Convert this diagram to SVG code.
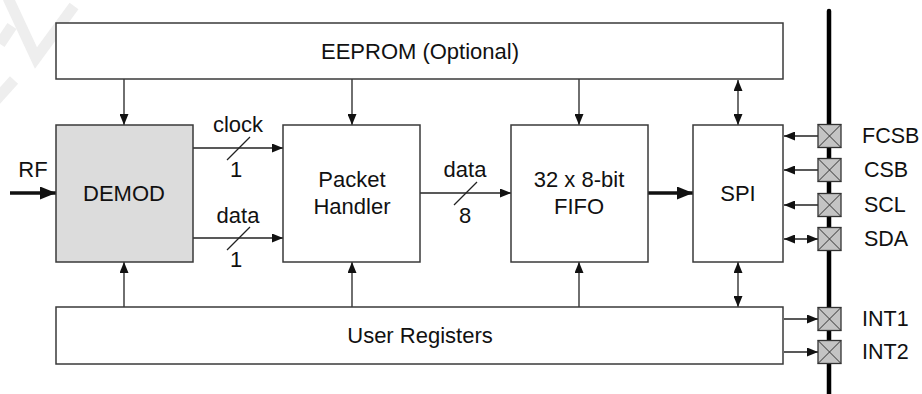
<svg xmlns="http://www.w3.org/2000/svg" width="922" height="394" viewBox="0 0 922 394">
<style>
.box{fill:#fff;stroke:#3a3a3a;stroke-width:1.5}
.gray{fill:#dcdcdc}
.t{font-family:"Liberation Sans",Arial,sans-serif;font-size:22px;fill:#111;text-anchor:middle}
.tl{font-family:"Liberation Sans",Arial,sans-serif;font-size:21.5px;fill:#111;text-anchor:start}
.ln{stroke:#222;stroke-width:1.3;fill:none}
.thick{stroke:#111;stroke-width:3.5;fill:none}
.pin{fill:#c4c4c4;stroke:#333;stroke-width:1.3}
.px{stroke:#333;stroke-width:1;fill:none}
</style>
<defs>
<marker id="ah" markerUnits="userSpaceOnUse" markerWidth="11" markerHeight="9" refX="11" refY="4.5" orient="auto-start-reverse" viewBox="0 0 11 9">
<path d="M0,0 L11,4.5 L0,9 z" fill="#111"/>
</marker>
<marker id="ahT" markerUnits="userSpaceOnUse" markerWidth="16" markerHeight="13" refX="16" refY="6.5" orient="auto" viewBox="0 0 16 13">
<path d="M0,0 L16,6.5 L0,13 z" fill="#111"/>
</marker>
</defs>
<rect width="922" height="394" fill="#fff"/>
<g id="watermark" fill="none" stroke="#eeeeee" stroke-width="11" stroke-linejoin="miter">
<polyline points="8,-2 36,58 74,6"/>
<polyline points="0,44 12,26"/>
<line x1="14" y1="80" x2="-4" y2="100"/>
</g>
<g id="connectors">
<line class="ln" x1="124" y1="79" x2="124" y2="125" marker-end="url(#ah)"/>
<line class="ln" x1="352" y1="79" x2="352" y2="125" marker-end="url(#ah)"/>
<line class="ln" x1="579" y1="79" x2="579" y2="125" marker-end="url(#ah)"/>
<line class="ln" x1="738" y1="80" x2="738" y2="125" marker-start="url(#ah)" marker-end="url(#ah)"/>
<line class="ln" x1="124" y1="307" x2="124" y2="262" marker-end="url(#ah)"/>
<line class="ln" x1="352" y1="307" x2="352" y2="262" marker-end="url(#ah)"/>
<line class="ln" x1="579" y1="307" x2="579" y2="262" marker-end="url(#ah)"/>
<line class="ln" x1="738" y1="262" x2="738" y2="307" marker-start="url(#ah)" marker-end="url(#ah)"/>
<line class="thick" x1="10" y1="193" x2="56" y2="193" marker-end="url(#ahT)"/>
<line class="thick" x1="648" y1="193" x2="693" y2="193" marker-end="url(#ahT)"/>
<line class="ln" x1="193" y1="148" x2="283" y2="148" marker-end="url(#ah)"/>
<line class="ln" x1="227" y1="160" x2="250" y2="137"/>
<line class="ln" x1="193" y1="238" x2="283" y2="238" marker-end="url(#ah)"/>
<line class="ln" x1="227" y1="250" x2="250" y2="227"/>
<line class="ln" x1="420" y1="193" x2="511" y2="193" marker-end="url(#ah)"/>
<line class="ln" x1="454" y1="205" x2="477" y2="182"/>
<line class="ln" x1="818" y1="136" x2="784" y2="136" marker-end="url(#ah)"/>
<line class="ln" x1="818" y1="170" x2="784" y2="170" marker-end="url(#ah)"/>
<line class="ln" x1="818" y1="205" x2="784" y2="205" marker-end="url(#ah)"/>
<line class="ln" x1="784" y1="239" x2="818" y2="239" marker-start="url(#ah)" marker-end="url(#ah)"/>
<line class="ln" x1="784" y1="319" x2="818" y2="319" marker-end="url(#ah)"/>
<line class="ln" x1="784" y1="352" x2="818" y2="352" marker-end="url(#ah)"/>
<line x1="829" y1="11" x2="829" y2="396" stroke="#000" stroke-width="4.5" stroke-linecap="round"/>
</g>
<g id="labels">
<text class="t" x="33" y="177">RF</text>
<text class="t" x="238" y="132">clock</text>
<text class="t" x="236" y="177">1</text>
<text class="t" x="238" y="223">data</text>
<text class="t" x="236" y="267">1</text>
<text class="t" x="465" y="177">data</text>
<text class="t" x="465" y="223">8</text>
</g>
<g id="eeprom"><rect class="box" x="56" y="23" width="727" height="56"/><text class="t" x="420" y="59">EEPROM (Optional)</text></g>
<g id="demod"><rect class="box gray" x="56" y="125" width="137" height="137"/><text class="t" x="124" y="201">DEMOD</text></g>
<g id="packet"><rect class="box" x="283" y="125" width="137" height="137"/><text class="t" x="352" y="187">Packet</text><text class="t" x="352" y="214">Handler</text></g>
<g id="fifo"><rect class="box" x="511" y="125" width="137" height="137"/><text class="t" x="579" y="187">32 x 8-bit</text><text class="t" x="579" y="214">FIFO</text></g>
<g id="spi"><rect class="box" x="693" y="125" width="90" height="137"/><text class="t" x="738" y="201">SPI</text></g>
<g id="userreg"><rect class="box" x="56" y="307" width="727" height="57"/><text class="t" x="420" y="343">User Registers</text></g>
<g id="pin-fcsb"><rect class="pin" x="818" y="124.5" width="23" height="23"/><path class="px" d="M818,124.5 L841,147.5 M841,124.5 L818,147.5"/><text class="tl" x="862" y="143">FCSB</text></g>
<g id="pin-csb"><rect class="pin" x="818" y="158.5" width="23" height="23"/><path class="px" d="M818,158.5 L841,181.5 M841,158.5 L818,181.5"/><text class="tl" x="864" y="177">CSB</text></g>
<g id="pin-scl"><rect class="pin" x="818" y="193.5" width="23" height="23"/><path class="px" d="M818,193.5 L841,216.5 M841,193.5 L818,216.5"/><text class="tl" x="864" y="212">SCL</text></g>
<g id="pin-sda"><rect class="pin" x="818" y="227.5" width="23" height="23"/><path class="px" d="M818,227.5 L841,250.5 M841,227.5 L818,250.5"/><text class="tl" x="864" y="246">SDA</text></g>
<g id="pin-int1"><rect class="pin" x="818" y="307.5" width="23" height="23"/><path class="px" d="M818,307.5 L841,330.5 M841,307.5 L818,330.5"/><text class="tl" x="862" y="326">INT1</text></g>
<g id="pin-int2"><rect class="pin" x="818" y="340.5" width="23" height="23"/><path class="px" d="M818,340.5 L841,363.5 M841,340.5 L818,363.5"/><text class="tl" x="862" y="359">INT2</text></g>
</svg>
